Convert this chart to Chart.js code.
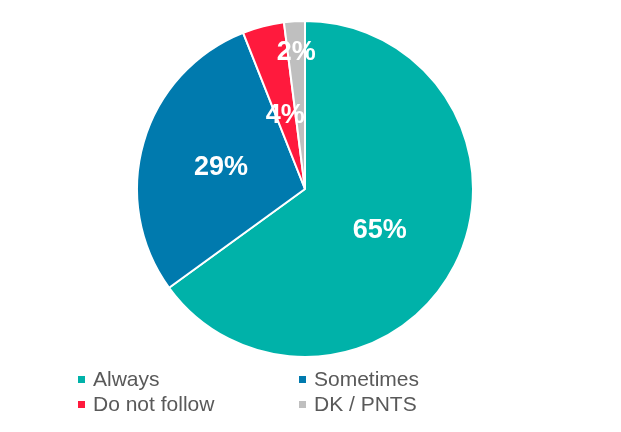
<!DOCTYPE html>
<html>
<head>
<meta charset="utf-8">
<script src="https://cdn.jsdelivr.net/npm/chart.js@4"></script>
<style>
  html, body { margin: 0; padding: 0; background: #fff; }
  #wrap { position: relative; width: 621px; height: 432px; }
  #legend { position: absolute; left: 0; top: 0; width: 621px; height: 432px; pointer-events: none;
            font-family: "Liberation Sans", Arial, sans-serif; font-size: 21px; color: #595959; }
  .item { position: absolute; white-space: nowrap; line-height: 22px; }
  .box { display: inline-block; width: 7px; height: 7px; margin-right: 8px; vertical-align: 3px; }
</style>
</head>
<body>
<div id="wrap">
  <canvas id="pieChart" width="621" height="432"></canvas>
  <div id="legend"></div>
</div>
<script>
const categories = ['Always', 'Sometimes', 'Do not follow', 'DK / PNTS'];
const values = [65, 29, 4, 2];
const colors = ['#00B2A9', '#007AAE', '#FF1A3D', '#BFBFBF'];
// how far out each label sits, as a share of the radius
const labelRadius = [0.5, 0.52, 0.47, 0.83];

// legend rows: [left, top]
const legendSpots = [[78, 368], [299, 368], [78, 393], [299, 393]];
const legendEl = document.getElementById('legend');
categories.forEach((name, i) => {
  const div = document.createElement('div');
  div.className = 'item';
  div.style.left = legendSpots[i][0] + 'px';
  div.style.top = legendSpots[i][1] + 'px';
  div.innerHTML = '<span class="box" style="background:' + colors[i] + '"></span>' + name;
  legendEl.appendChild(div);
});

const pctLabels = {
  id: 'pctLabels',
  afterDatasetsDraw(chart) {
    const ctx = chart.ctx;
    const meta = chart.getDatasetMeta(0);
    ctx.save();
    ctx.fillStyle = '#ffffff';
    ctx.font = 'bold 27px "Liberation Sans", Arial, sans-serif';
    ctx.textAlign = 'center';
    ctx.textBaseline = 'middle';
    meta.data.forEach((arc, i) => {
      const p = arc.getProps(['x', 'y', 'startAngle', 'endAngle', 'outerRadius']);
      const mid = (p.startAngle + p.endAngle) / 2;
      const r = p.outerRadius * labelRadius[i];
      ctx.fillText(values[i] + '%', p.x + Math.cos(mid) * r, p.y + Math.sin(mid) * r + 3);
    });
    ctx.restore();
  }
};

const ctx = document.getElementById('pieChart').getContext('2d');
const chart = new Chart(ctx, {
  type: 'pie',
  data: {
    labels: categories,
    datasets: [{
      data: values,
      backgroundColor: colors,
      borderColor: '#ffffff',
      borderWidth: 2
    }]
  },
  options: {
    responsive: false,
    animation: false,
    layout: {
      padding: { top: 20, bottom: 74, left: 0, right: 11 }
    },
    plugins: {
      legend: { display: false },
      tooltip: { enabled: false }
    }
  },
  plugins: [pctLabels]
});
</script>
</body>
</html>
